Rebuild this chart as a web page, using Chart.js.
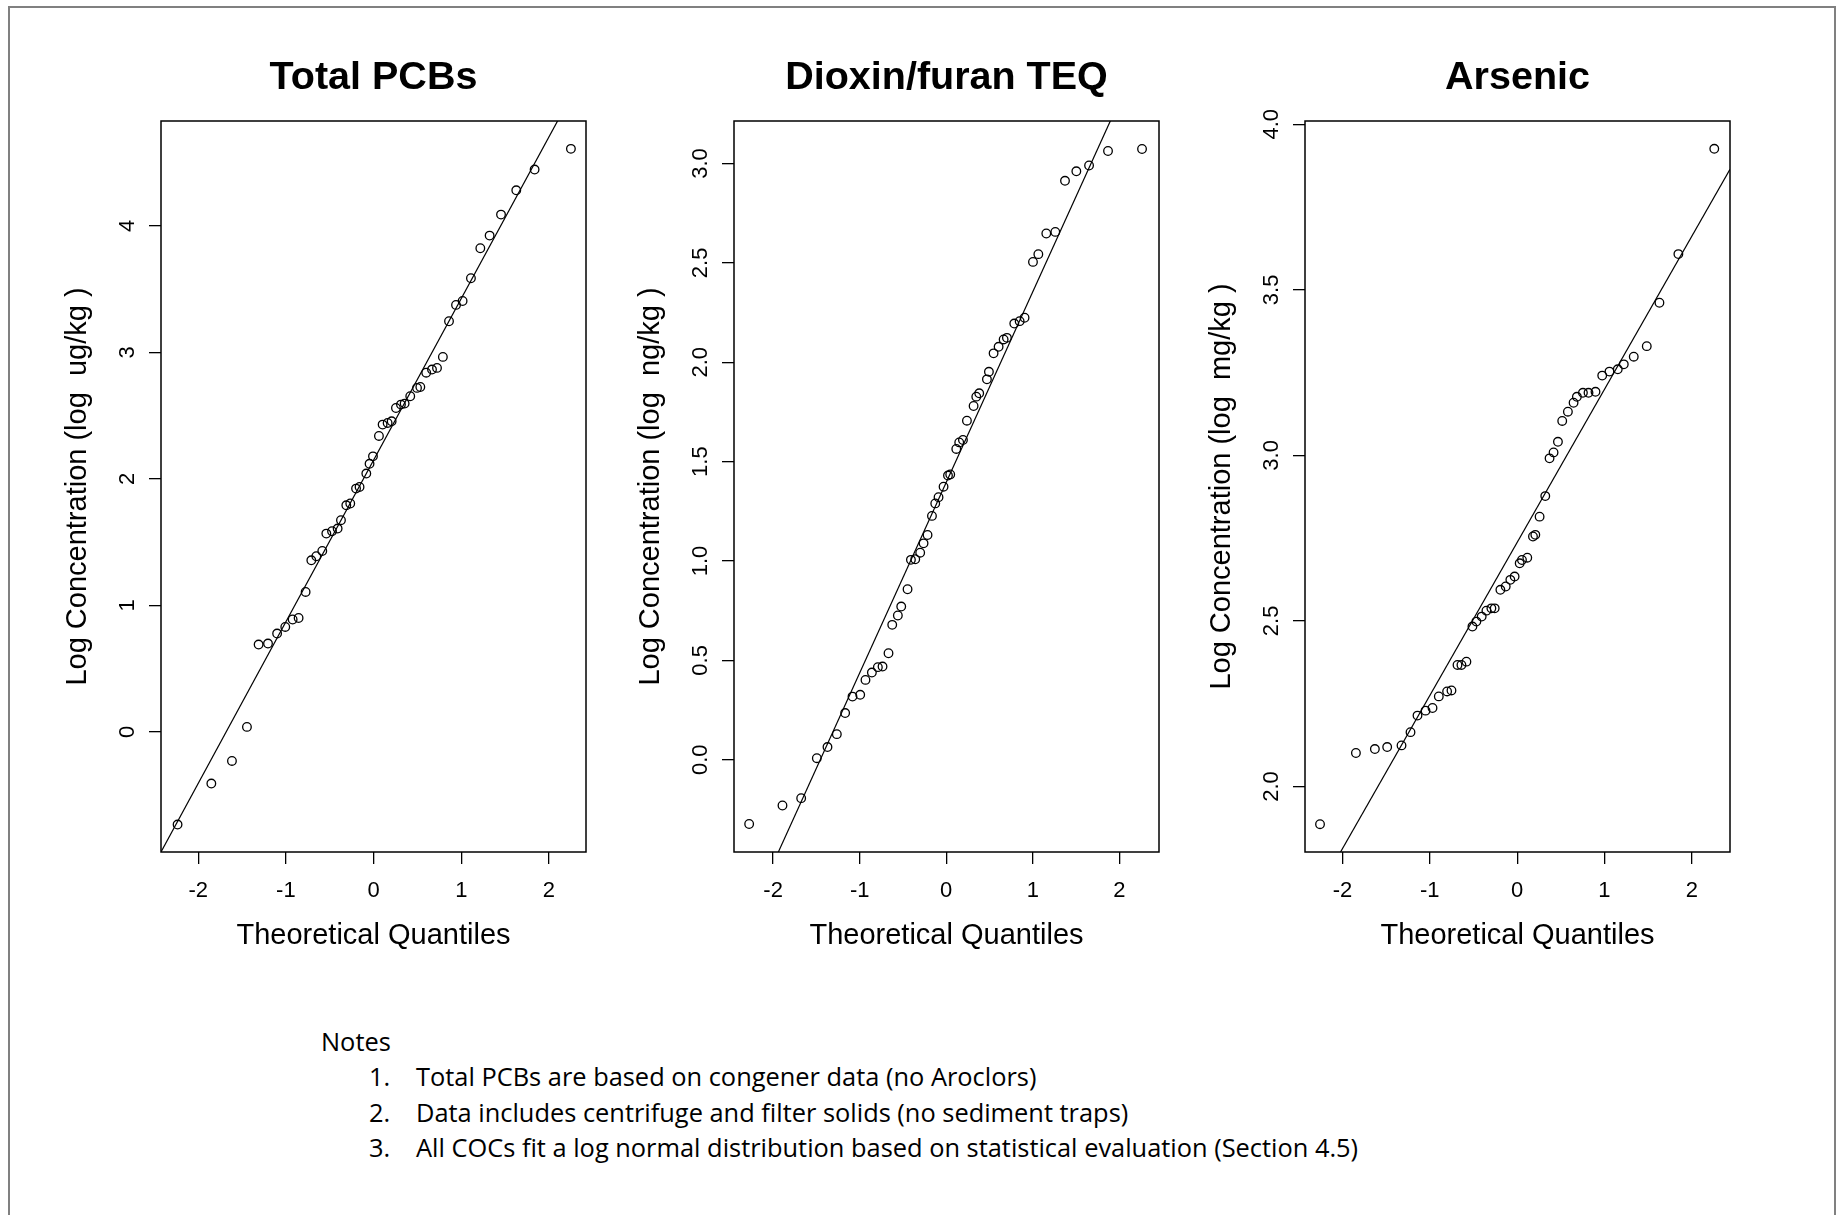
<!DOCTYPE html>
<html>
<head>
<meta charset="utf-8">
<script src="https://cdn.jsdelivr.net/npm/chart.js@4/dist/chart.umd.min.js"></script>
<style>
  html, body { margin: 0; padding: 0; background: #fff; overflow: hidden; width: 1843px; height: 1215px; }
  #frame { position: absolute; left: 8px; top: 6px; width: 1824px; height: 1300px;
           border-left: 2px solid #808080; border-top: 2px solid #808080; border-right: 2px solid #808080; }
  canvas.panel { position: absolute; top: 0; }
  .note { position: absolute; font-family: "Open Sans", "Noto Sans", sans-serif; font-size: 25.4px; line-height: 25px; color: #000; white-space: nowrap; }
</style>
</head>
<body>
<div id="frame"></div>
<canvas id="c1" class="panel" width="665" height="1000"></canvas>
<canvas id="c2" class="panel" width="665" height="1000"></canvas>
<canvas id="c3" class="panel" width="665" height="1000"></canvas>

<div class="note" style="left:321px; top:1029px;">Notes</div>
<div class="note" style="left:369px; top:1064px;">1.</div>
<div class="note" style="left:416px; top:1064px;">Total PCBs are based on congener data (no Aroclors)</div>
<div class="note" style="left:369px; top:1100px;">2.</div>
<div class="note" style="left:416px; top:1100px;">Data includes centrifuge and filter solids (no sediment traps)</div>
<div class="note" style="left:369px; top:1135px;">3.</div>
<div class="note" style="left:416px; top:1135px;">All COCs fit a log normal distribution based on statistical evaluation (Section 4.5)</div>

<script>
// ---------------- data ----------------
const titles = ['Total PCBs', 'Dioxin/furan TEQ', 'Arsenic'];
const yTitles = ['Log Concentration (log  ug/kg )', 'Log Concentration (log  ng/kg )', 'Log Concentration (log  mg/kg )'];
const xTitle = 'Theoretical Quantiles';

const xTicks = [-2, -1, 0, 1, 2];
const xTickLabels = ['-2', '-1', '0', '1', '2'];

const pcbTicks = [0, 1, 2, 3, 4];
const pcbTickLabels = ['0', '1', '2', '3', '4'];
const dioxinTicks = [0, 0.5, 1, 1.5, 2, 2.5, 3];
const dioxinTickLabels = ['0.0', '0.5', '1.0', '1.5', '2.0', '2.5', '3.0'];
const arsenicTicks = [2, 2.5, 3, 3.5, 4];
const arsenicTickLabels = ['2.0', '2.5', '3.0', '3.5', '4.0'];

const pcbTheo = [-2.235,-1.85,-1.615,-1.444,-1.311,-1.204,-1.10,-1.007,-0.923,-0.855,-0.775,-0.71,-0.653,-0.585,-0.539,-0.474,-0.41,-0.372,-0.311,-0.266,-0.2,-0.16,-0.083,-0.046,-0.007,0.061,0.103,0.16,0.206,0.255,0.312,0.354,0.418,0.495,0.533,0.60,0.666,0.723,0.79,0.86,0.94,1.015,1.11,1.217,1.323,1.453,1.627,1.836,2.25];
const pcbLog  = [-0.732,-0.408,-0.229,0.04,0.691,0.699,0.778,0.83,0.889,0.901,1.107,1.357,1.389,1.431,1.568,1.587,1.608,1.674,1.792,1.806,1.924,1.937,2.043,2.12,2.179,2.34,2.43,2.443,2.456,2.561,2.588,2.596,2.654,2.72,2.727,2.84,2.865,2.878,2.965,3.247,3.376,3.407,3.587,3.824,3.924,4.09,4.282,4.446,4.61];

const dioxinTheo = [-2.277,-1.892,-1.676,-1.495,-1.372,-1.264,-1.168,-1.083,-0.994,-0.933,-0.859,-0.79,-0.736,-0.667,-0.624,-0.559,-0.52,-0.447,-0.408,-0.358,-0.301,-0.262,-0.216,-0.165,-0.127,-0.089,-0.031,0.02,0.046,0.116,0.15,0.193,0.239,0.316,0.347,0.381,0.47,0.493,0.547,0.605,0.663,0.701,0.786,0.848,0.905,1.002,1.064,1.156,1.26,1.372,1.503,1.65,1.869,2.262];
const dioxinLog  = [-0.323,-0.23,-0.193,0.008,0.064,0.129,0.235,0.318,0.327,0.402,0.439,0.466,0.469,0.536,0.679,0.726,0.771,0.858,1.006,1.009,1.042,1.089,1.131,1.227,1.29,1.321,1.374,1.43,1.436,1.564,1.597,1.609,1.706,1.78,1.827,1.844,1.914,1.952,2.045,2.078,2.115,2.123,2.195,2.207,2.224,2.505,2.544,2.648,2.656,2.913,2.961,2.99,3.063,3.073];

const arsenicTheo = [-2.257,-1.846,-1.629,-1.488,-1.324,-1.221,-1.141,-1.049,-0.969,-0.897,-0.802,-0.752,-0.683,-0.638,-0.581,-0.512,-0.467,-0.406,-0.352,-0.295,-0.257,-0.192,-0.131,-0.078,-0.029,0.029,0.055,0.116,0.181,0.208,0.257,0.322,0.371,0.417,0.467,0.516,0.581,0.646,0.684,0.753,0.817,0.897,0.974,1.057,1.152,1.221,1.335,1.484,1.629,1.846,2.257];
const arsenicLog  = [1.886,2.101,2.113,2.119,2.124,2.164,2.214,2.229,2.237,2.272,2.287,2.29,2.367,2.367,2.377,2.483,2.498,2.513,2.531,2.538,2.538,2.594,2.604,2.624,2.634,2.674,2.684,2.691,2.755,2.76,2.815,2.877,2.991,3.009,3.041,3.104,3.132,3.159,3.177,3.189,3.189,3.192,3.241,3.253,3.260,3.275,3.298,3.330,3.461,3.608,3.926];

// reference lines [intercept, slope]
const pcbLine = [2.149, 1.278];
const dioxinLine = [1.396, 0.959];
const arsenicLine = [2.737, 0.4624];

// axis ranges [min, max]
const pcbXRange = [-2.424, 2.422], pcbYRange = [-0.949, 4.83];
const dioxinXRange = [-2.452, 2.458], dioxinYRange = [-0.464, 3.214];
const arsenicXRange = [-2.429, 2.437], arsenicYRange = [1.802, 4.01];

// ---------------- layout / style ----------------
const plotLefts = [161, 734, 1305];
const FONT = '"Liberation Sans", Arial, sans-serif';

const boxPlugin = {
  id: 'box',
  afterDatasetsDraw(chart) {
    const a = chart.chartArea, ctx = chart.ctx;
    ctx.save();
    ctx.strokeStyle = '#000';
    ctx.lineWidth = 1.5;
    ctx.strokeRect(a.left, a.top, a.right - a.left, a.bottom - a.top);
    ctx.restore();
  }
};

function yLabelPlugin(ticks, labels) {
  return {
    id: 'ylabels',
    afterDraw(chart) {
      const s = chart.scales.y, ctx = chart.ctx, a = chart.chartArea;
      ctx.save();
      ctx.fillStyle = '#000';
      ctx.font = '22px ' + FONT;
      ctx.textAlign = 'center';
      ctx.textBaseline = 'middle';
      ticks.forEach((v, i) => {
        const py = s.getPixelForValue(v);
        ctx.save();
        ctx.translate(a.left - 33, py);
        ctx.rotate(-Math.PI / 2);
        ctx.fillText(labels[i], 0, 0);
        ctx.restore();
      });
      ctx.restore();
    }
  };
}

function makeChart(idx, theo, vals, line, xr, yr, yTicks, yLabels) {
  const canvas = document.getElementById('c' + (idx + 1));
  canvas.style.left = (plotLefts[idx] - 120) + 'px';
  const tickGrid = { display: true, drawOnChartArea: false, drawTicks: true, tickLength: 12, color: '#000', lineWidth: 1.3 };
  return new Chart(canvas, {
    type: 'scatter',
    data: {
      datasets: [
        {
          type: 'line',
          data: [{ x: xr[0], y: line[0] + line[1] * xr[0] }, { x: xr[1], y: line[0] + line[1] * xr[1] }],
          borderColor: '#000', borderWidth: 1.2, pointRadius: 0, fill: false, tension: 0
        },
        {
          data: theo.map((x, i) => ({ x: x, y: vals[i] })),
          pointStyle: 'circle', pointRadius: 4.3, borderColor: '#000', borderWidth: 1.3,
          backgroundColor: 'rgba(0,0,0,0)'
        }
      ]
    },
    options: {
      responsive: false, animation: false, events: [],
      layout: { padding: 0 },
      plugins: {
        legend: { display: false }, tooltip: { enabled: false },
        title: {
          display: true, text: titles[idx], color: '#000',
          font: { family: FONT, size: 39.5, weight: 'bold', lineHeight: 1 },
          padding: { top: 58, bottom: 23.5 }
        }
      },
      scales: {
        x: {
          type: 'linear', position: 'bottom', min: xr[0], max: xr[1],
          afterBuildTicks: s => { s.ticks = xTicks.map(v => ({ value: v })); },
          afterFit: s => { s.height = 148; },
          grid: tickGrid, border: { display: false },
          ticks: {
            color: '#000', padding: 16, maxRotation: 0, autoSkip: false,
            font: { family: FONT, size: 22, lineHeight: 1 },
            callback: (v) => { const i = xTicks.indexOf(v); return i >= 0 ? xTickLabels[i] : ''; }
          },
          title: { display: true, text: xTitle, color: '#000', font: { family: FONT, size: 29, lineHeight: 1 }, padding: { top: 0, bottom: 50 } }
        },
        y: {
          type: 'linear', position: 'left', min: yr[0], max: yr[1],
          afterBuildTicks: s => { s.ticks = yTicks.map(v => ({ value: v })); },
          afterFit: s => { s.width = 120; },
          grid: tickGrid, border: { display: false },
          ticks: { display: false },
          title: { display: true, text: yTitles[idx], color: '#000', font: { family: FONT, size: 29, lineHeight: 1 }, padding: { top: 22, bottom: 0 } }
        },
        y2: {
          type: 'linear', position: 'right', display: true,
          afterFit: s => { s.width = 120; },
          grid: { display: false }, border: { display: false }, ticks: { display: false }
        }
      }
    },
    plugins: [boxPlugin, yLabelPlugin(yTicks, yLabels)]
  });
}

makeChart(0, pcbTheo, pcbLog, pcbLine, pcbXRange, pcbYRange, pcbTicks, pcbTickLabels);
makeChart(1, dioxinTheo, dioxinLog, dioxinLine, dioxinXRange, dioxinYRange, dioxinTicks, dioxinTickLabels);
makeChart(2, arsenicTheo, arsenicLog, arsenicLine, arsenicXRange, arsenicYRange, arsenicTicks, arsenicTickLabels);
</script>
</body>
</html>
